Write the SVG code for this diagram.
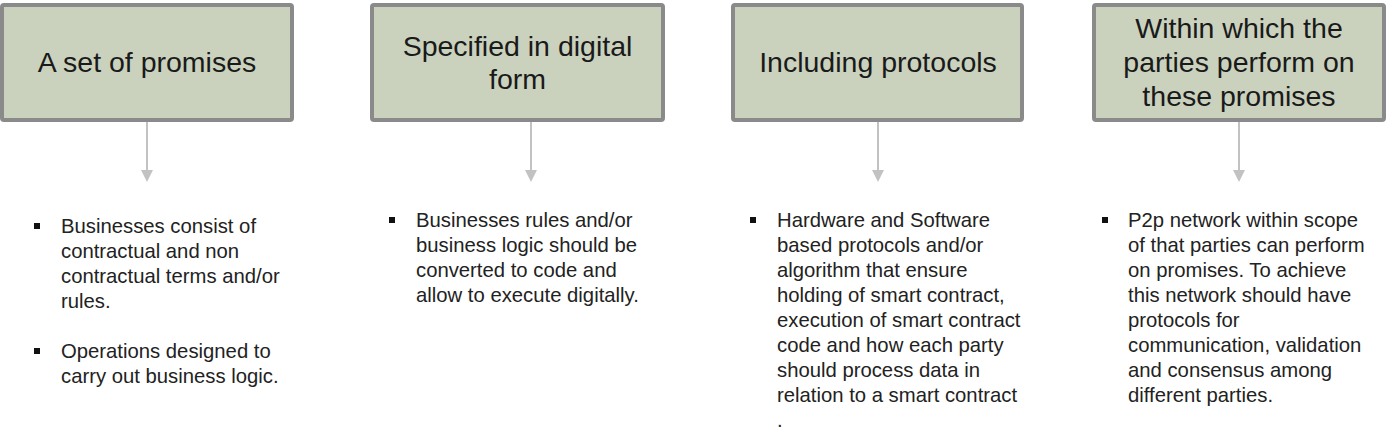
<svg xmlns="http://www.w3.org/2000/svg" width="1393" height="447" viewBox="0 0 1393 447">
<style>
.box{fill:#cad2be;stroke:#8a8a8a;stroke-width:4}
.t{font-family:"Liberation Sans",Arial,sans-serif;font-size:28.5px;fill:#1a1a1a;text-anchor:middle}
.b{font-family:"Liberation Sans",Arial,sans-serif;font-size:20.3px;fill:#222}
.bl{fill:#111}
.ln{stroke:#c2c2c2;stroke-width:2;fill:none}
.ah{fill:#c2c2c2}
</style>
<rect width="1393" height="447" fill="#fff"/>
<g id="node1">
<rect class="box" x="2" y="5" width="290" height="115" rx="2"/>
<text class="t" x="147" y="72">A set of promises</text>
</g>
<g id="node2">
<rect class="box" x="372" y="5" width="291" height="115" rx="2"/>
<text class="t" x="517.5" y="56">Specified in digital</text>
<text class="t" x="517.5" y="89">form</text>
</g>
<g id="node3">
<rect class="box" x="733" y="5" width="289" height="115" rx="2"/>
<text class="t" x="878" y="72">Including protocols</text>
</g>
<g id="node4">
<rect class="box" x="1094" y="5" width="290" height="115" rx="2"/>
<text class="t" x="1239" y="38">Within which the</text>
<text class="t" x="1239" y="72">parties perform on</text>
<text class="t" x="1239" y="106">these promises</text>
</g>
<g id="connectors">
<line class="ln" x1="147" y1="122" x2="147" y2="171"/><polygon class="ah" points="141,170 153,170 147,182"/>
<line class="ln" x1="531" y1="122" x2="531" y2="171"/><polygon class="ah" points="525,170 537,170 531,182"/>
<line class="ln" x1="878" y1="122" x2="878" y2="171"/><polygon class="ah" points="872,170 884,170 878,182"/>
<line class="ln" x1="1239" y1="122" x2="1239" y2="171"/><polygon class="ah" points="1233,170 1245,170 1239,182"/>
</g>
<g id="text1">
<rect class="bl" x="34" y="223" width="6" height="6"/>
<text class="b" x="61" y="233">Businesses consist of</text>
<text class="b" x="61" y="258">contractual and non</text>
<text class="b" x="61" y="283">contractual terms and/or</text>
<text class="b" x="61" y="308">rules.</text>
<rect class="bl" x="34" y="348" width="6" height="6"/>
<text class="b" x="61" y="358">Operations designed to</text>
<text class="b" x="61" y="383">carry out business logic.</text>
</g>
<g id="text2">
<rect class="bl" x="389" y="217" width="6" height="6"/>
<text class="b" x="416" y="227">Businesses rules and/or</text>
<text class="b" x="416" y="252">business logic should be</text>
<text class="b" x="416" y="277">converted to code and</text>
<text class="b" x="416" y="302">allow to execute digitally.</text>
</g>
<g id="text3">
<rect class="bl" x="750" y="217" width="6" height="6"/>
<text class="b" x="777" y="227">Hardware and Software</text>
<text class="b" x="777" y="252">based protocols and/or</text>
<text class="b" x="777" y="277">algorithm that ensure</text>
<text class="b" x="777" y="302">holding of smart contract,</text>
<text class="b" x="777" y="327">execution of smart contract</text>
<text class="b" x="777" y="352">code and how each party</text>
<text class="b" x="777" y="377">should process data in</text>
<text class="b" x="777" y="402">relation to a smart contract</text>
<text class="b" x="777" y="427">.</text>
</g>
<g id="text4">
<rect class="bl" x="1102" y="217" width="6" height="6"/>
<text class="b" x="1128" y="227">P2p network within scope</text>
<text class="b" x="1128" y="252">of that parties can perform</text>
<text class="b" x="1128" y="277">on promises. To achieve</text>
<text class="b" x="1128" y="302">this network should have</text>
<text class="b" x="1128" y="327">protocols for</text>
<text class="b" x="1128" y="352">communication, validation</text>
<text class="b" x="1128" y="377">and consensus among</text>
<text class="b" x="1128" y="402">different parties.</text>
</g>
</svg>
